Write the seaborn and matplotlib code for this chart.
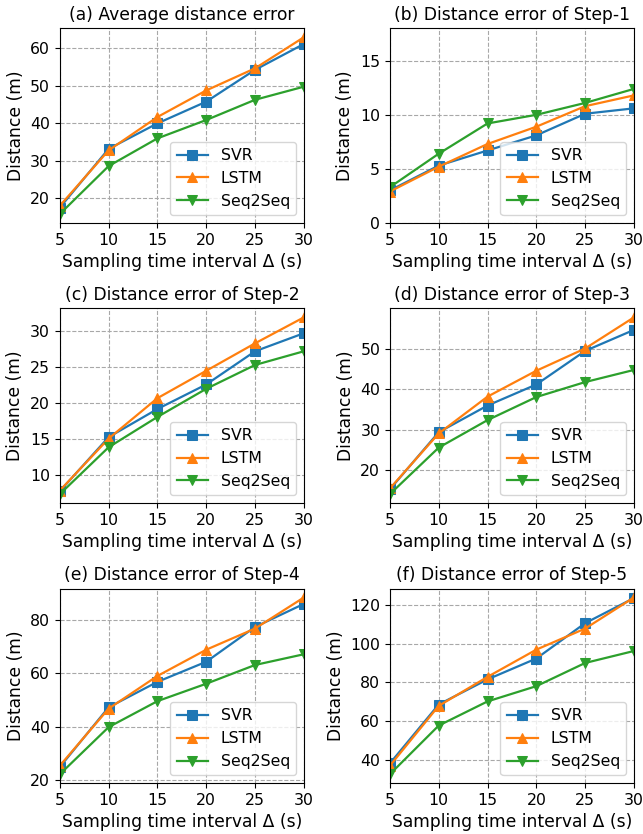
import pandas as pd
import matplotlib
matplotlib.use('Agg')
import matplotlib.pyplot as plt
import seaborn as sns


intervals = [5, 10, 15, 20, 25, 30]
models = ['SVR', 'LSTM', 'Seq2Seq']
titles = ['(a) Average distance error', '(b) Distance error of Step-1',
          '(c) Distance error of Step-2', '(d) Distance error of Step-3',
          '(e) Distance error of Step-4', '(f) Distance error of Step-5']

avg_svr = [17.5, 33.2, 40.0, 45.8, 54.3, 61.2]
avg_lstm = [18.0, 32.8, 41.7, 48.8, 54.7, 63.0]
avg_seq = [15.8, 28.6, 36.0, 40.9, 46.3, 49.8]

s1_svr = [3.0, 5.3, 6.7, 8.1, 10.1, 10.6]
s1_lstm = [2.9, 5.2, 7.3, 8.9, 10.8, 11.8]
s1_seq = [3.3, 6.4, 9.2, 10.0, 11.1, 12.4]

s2_svr = [7.8, 15.3, 19.2, 22.6, 27.2, 29.7]
s2_lstm = [7.9, 15.1, 20.7, 24.5, 28.3, 31.9]
s2_seq = [7.4, 13.9, 18.1, 22.0, 25.3, 27.2]

s3_svr = [15.3, 29.4, 36.0, 41.2, 49.5, 54.7]
s3_lstm = [15.5, 29.1, 38.2, 44.6, 50.1, 57.8]
s3_seq = [14.1, 25.6, 32.4, 38.1, 41.8, 44.8]

s4_svr = [25.0, 47.3, 56.8, 64.3, 77.3, 85.9]
s4_lstm = [25.5, 46.8, 59.0, 68.8, 76.7, 88.3]
s4_seq = [22.3, 39.9, 49.6, 56.1, 63.1, 67.1]

s5_svr = [38.0, 68.5, 81.5, 92.3, 110.6, 123.6]
s5_lstm = [36.8, 67.8, 82.8, 96.9, 107.8, 123.9]
s5_seq = [32.4, 57.6, 70.1, 78.0, 90.0, 96.2]

panels = [
    (avg_svr, avg_lstm, avg_seq),
    (s1_svr, s1_lstm, s1_seq),
    (s2_svr, s2_lstm, s2_seq),
    (s3_svr, s3_lstm, s3_seq),
    (s4_svr, s4_lstm, s4_seq),
    (s5_svr, s5_lstm, s5_seq),
]

palette = {'SVR': '#1f77b4', 'LSTM': '#ff7f0e', 'Seq2Seq': '#2ca02c'}
markers = {'SVR': 's', 'LSTM': '^', 'Seq2Seq': 'v'}

plt.rcParams['font.family'] = ['DejaVu Sans']

fig, axes = plt.subplots(3, 2, figsize=(6.43, 8.34), dpi=100)
fig.subplots_adjust(left=0.093, right=0.986, top=0.966, bottom=0.061,
                    wspace=0.352, hspace=0.44)

for i, (ax, vals) in enumerate(zip(axes.flat, panels)):
    rows = []
    for m, v in zip(models, vals):
        for x, y in zip(intervals, v):
            rows.append({'Interval': x, 'Distance': y, 'Model': m})
    df = pd.DataFrame(rows)
    sns.lineplot(data=df, x='Interval', y='Distance', hue='Model', style='Model',
                 palette=palette, markers=markers, dashes=False, markersize=7,
                 linewidth=1.6, ax=ax)
    for line in ax.lines:
        line.set_markeredgecolor(line.get_color())
    ax.set_xlim(5, 30)
    ax.set_xticks(intervals)
    if i == 1:
        ax.set_ylim(0, 18)
    ax.grid(True, linestyle='--', color='#a8a8a8', linewidth=0.8)
    ax.set_title(titles[i], fontsize=12.3)
    ax.set_xlabel('Sampling time interval Δ (s)', fontsize=12.3)
    ax.set_ylabel('Distance (m)', fontsize=12.3)
    ax.tick_params(labelsize=11.3)
    leg = ax.legend(loc='lower right', fontsize=11.3, title=None)
    for h in leg.legend_handles:
        h.set_markeredgecolor(h.get_color())

fig.savefig('out.png', dpi=100)
